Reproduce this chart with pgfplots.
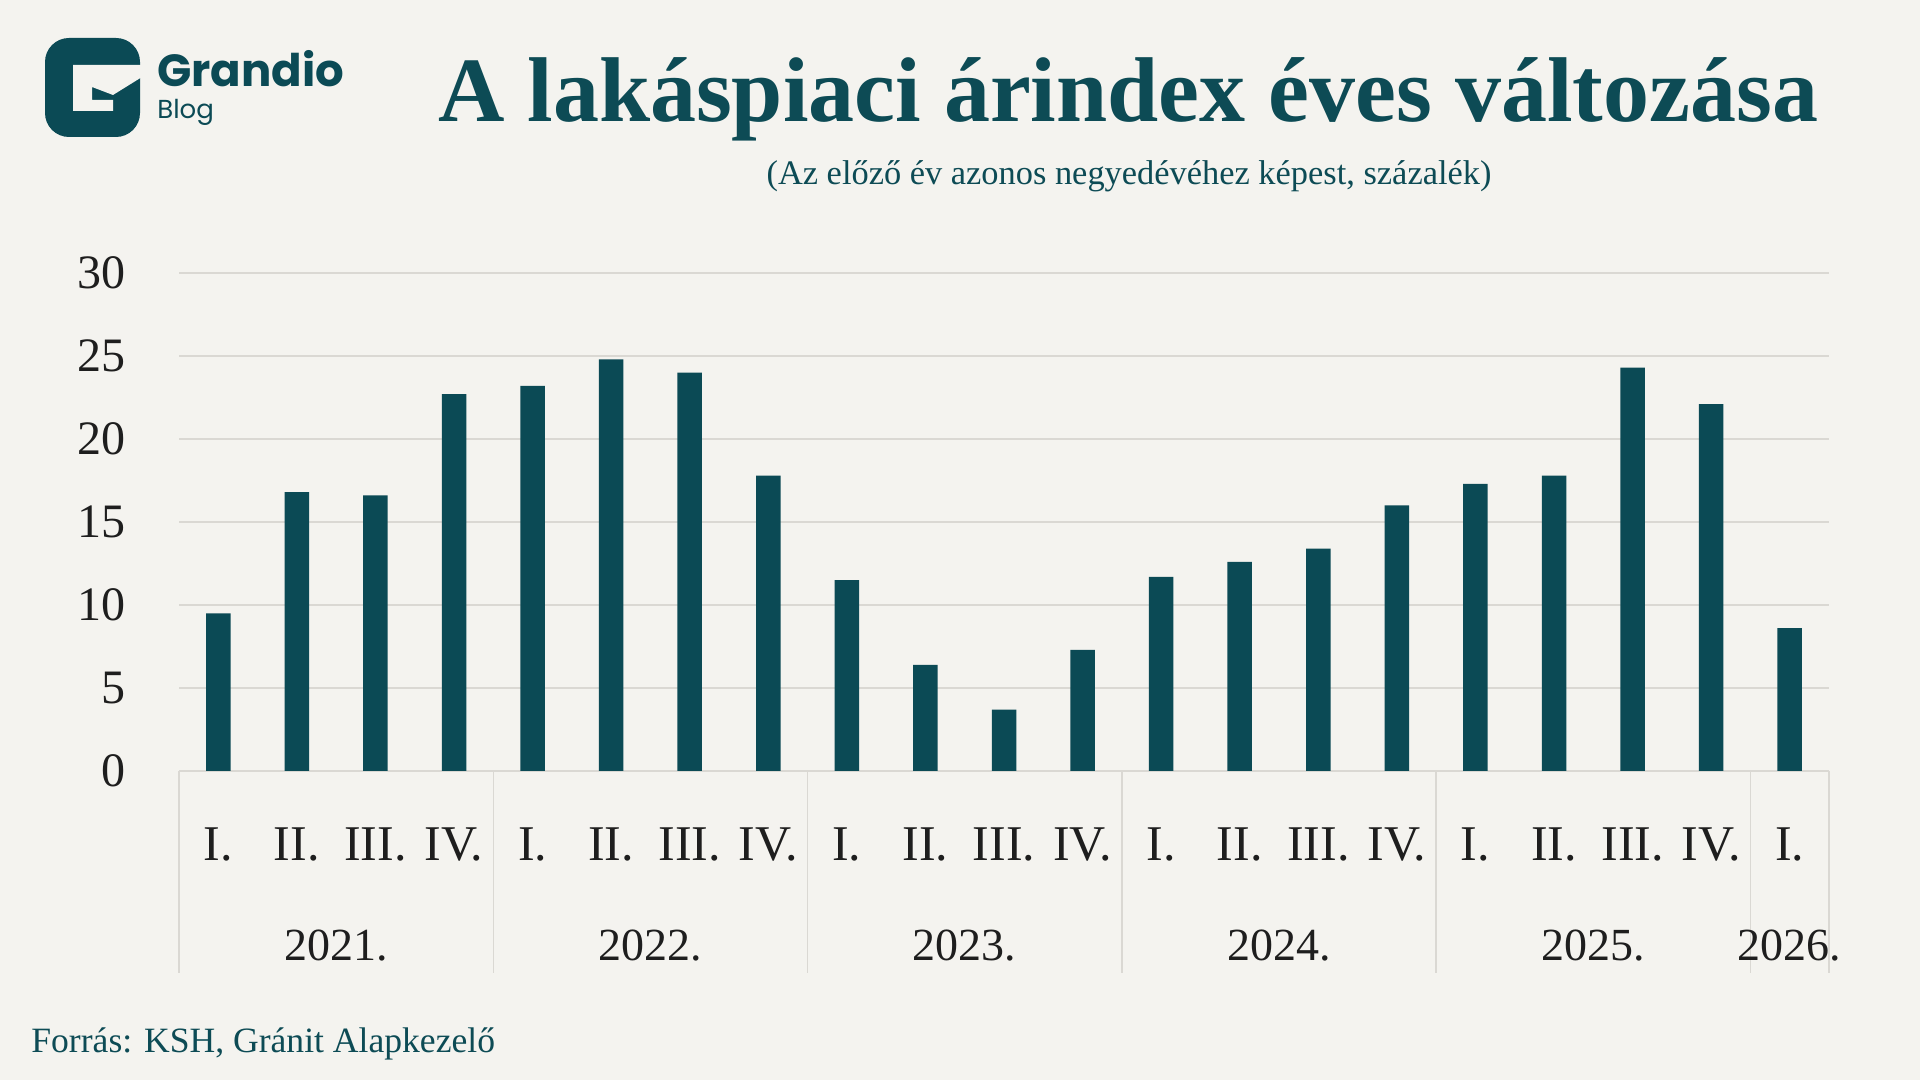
\documentclass[border=0pt]{standalone}
\usepackage{pgfplots}
\pgfplotsset{compat=1.18}
\usepackage{pgfplotstable}
\usepackage{fontspec}
\setmainfont{Liberation Serif}
\newfontfamily\poppins{Poppins}
\definecolor{bg}{HTML}{F4F3EF}
\definecolor{barteal}{HTML}{0B4A55}
\definecolor{titlec}{HTML}{0D4B55}
\definecolor{gridc}{HTML}{DAD8D3}
\definecolor{tickc}{HTML}{1E1E1E}

\pgfplotstableread{
x y
0 9.5
1 16.8
2 16.6
3 22.7
4 23.2
5 24.8
6 24.0
7 17.8
8 11.5
9 6.4
10 3.7
11 7.3
12 11.7
13 12.6
14 13.4
15 16.0
16 17.3
17 17.8
18 24.3
19 22.1
20 8.6
}\datatable

\begin{document}
\begin{tikzpicture}[x=1pt,y=1pt]
\fill[bg] (0,0) rectangle (960,540);
\useasboundingbox (0,0) rectangle (960,540);
% logo
\fill[barteal, rounded corners=12pt] (22.5,471.5) rectangle (70,521);
\fill[bg] (36.5,507.5) -- (71,507.5) -- (71,501.5) -- (56.5,492.5) -- (46,496.5) -- (46,490) -- (56.5,490) -- (56.5,484.5) -- (36.5,484.5) -- cycle;
\node[anchor=base west, inner sep=0pt, text=barteal] at (78.5,496.5) {\poppins\bfseries\fontsize{22.5}{22.5}\selectfont Grandio};
\node[anchor=base west, inner sep=0pt, text=barteal] at (78.5,480.5) {\poppins\fontsize{13}{13}\selectfont Blog};
% titles
\node[anchor=base, inner sep=0pt, text=titlec] at (564,479) {\bfseries\fontsize{46}{46}\selectfont A lakáspiaci árindex éves változása};
\node[anchor=base, inner sep=0pt, text=titlec] at (564.5,447.5) {\fontsize{17.2}{17.2}\selectfont (Az előző év azonos negyedévéhez képest, százalék)};
\node[anchor=base west, inner sep=0pt, text=titlec] at (15.5,13.5) {\fontsize{17.8}{17.8}\selectfont Forrás: KSH, Gránit Alapkezelő};

\begin{axis}[
  at={(89.5pt,154.5pt)}, anchor=south west,
  scale only axis, width=825pt, height=249pt,
  xmin=-0.5, xmax=20.5, ymin=0, ymax=30,
  ytick={0,5,...,30},
  xtick={0,...,20},
  xticklabels={I.,II.,III.,IV.,I.,II.,III.,IV.,I.,II.,III.,IV.,I.,II.,III.,IV.,I.,II.,III.,IV.,I.},
  ymajorgrids, grid style={gridc, line width=1pt},
  axis line style={draw=none},
  major tick length=0pt,
  clip=false,
  ybar, bar width=12.25pt,
  /pgf/number format/assume math mode=true,
  yticklabel style={anchor=east, inner sep=0pt, xshift=-26.5pt, font=\fontsize{24}{24}\selectfont, text=tickc},
  xticklabel style={anchor=base, inner sep=0pt, yshift=-45pt, font=\fontsize{25}{25}\selectfont, text=tickc},
]
\addplot[fill=barteal, draw=none] table[x=x,y=y]{\datatable};
\pgfplotsinvokeforeach{-0.5,3.5,7.5,11.5,15.5,19.5,20.5}{
  \draw[gridc, line width=0.75pt] (axis cs:#1,0) -- ++(0pt,-101pt);
}
\node[anchor=base, inner sep=0pt, text=tickc, font=\fontsize{23}{23}\selectfont, yshift=-95pt] at (axis cs:1.5,0) {2021.};
\node[anchor=base, inner sep=0pt, text=tickc, font=\fontsize{23}{23}\selectfont, yshift=-95pt] at (axis cs:5.5,0) {2022.};
\node[anchor=base, inner sep=0pt, text=tickc, font=\fontsize{23}{23}\selectfont, yshift=-95pt] at (axis cs:9.5,0) {2023.};
\node[anchor=base, inner sep=0pt, text=tickc, font=\fontsize{23}{23}\selectfont, yshift=-95pt] at (axis cs:13.5,0) {2024.};
\node[anchor=base, inner sep=0pt, text=tickc, font=\fontsize{23}{23}\selectfont, yshift=-95pt] at (axis cs:17.5,0) {2025.};
\node[anchor=base, inner sep=0pt, text=tickc, font=\fontsize{23}{23}\selectfont, yshift=-95pt] at (axis cs:20,0) {2026.};
\end{axis}
\end{tikzpicture}
\end{document}
